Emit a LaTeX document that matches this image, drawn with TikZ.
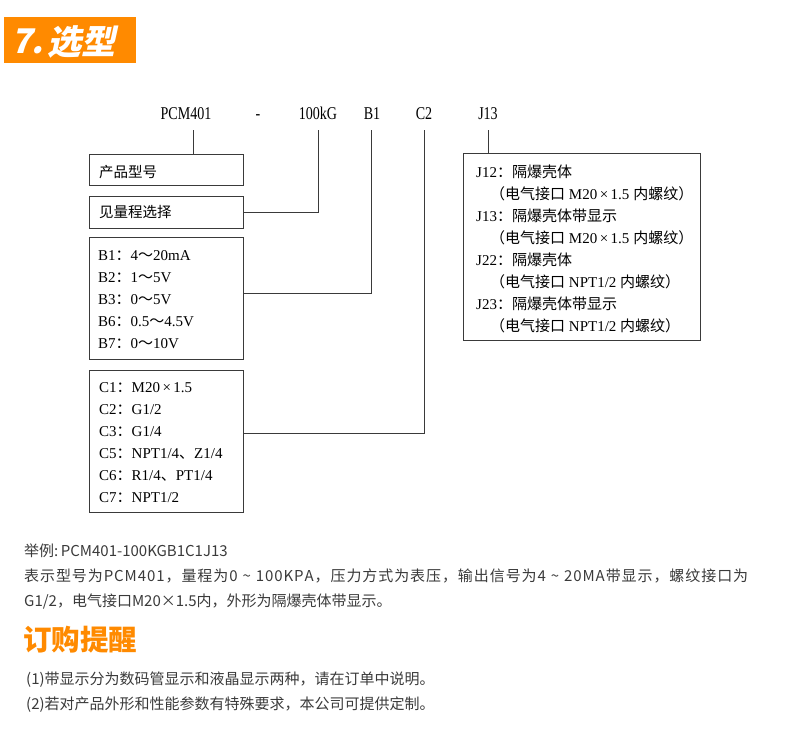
\documentclass[tikz,border=0pt]{standalone}
\usepackage{fontspec}
\usetikzlibrary{calc}
\setmainfont{Liberation Serif}
\newfontfamily\cjk{Noto Sans CJK SC}
\newfontfamily\hdrfont[FakeStretch=0.78]{Liberation Serif}
\newfontfamily\banfont[FakeSlant=0.22]{Noto Sans CJK SC}
\definecolor{orng}{HTML}{FF8A00}
\definecolor{txtgray}{HTML}{3A3A3A}
\definecolor{boxline}{HTML}{3A3A3A}
\newcommand\zh[1]{{\cjk #1}}
\newcommand\sqw{\hspace{4pt}\char"7E\hspace{4pt}}
\def\spreadtext#1{\spreadstep#1\relax}
\def\spreadstep#1{\ifx\relax#1\else#1\hskip0pt plus 1fil\expandafter\spreadstep\fi}
\begin{document}
\begin{tikzpicture}[x=1pt,y=-1pt,
  frame/.style={draw=boxline,line width=1pt,anchor=north west,inner sep=0pt,minimum width=154pt},
  conn/.style={draw=boxline,line width=1pt},
  hdr/.style={anchor=base,font=\hdrfont\fontsize{18}{18}\selectfont,inner sep=0pt},
  itm/.style={anchor=base west,font=\fontsize{15}{15}\selectfont,inner sep=0pt},
  zhitm/.style={anchor=base west,font=\cjk\fontsize{14.5}{15}\selectfont,inner sep=0pt},
  bodytxt/.style={anchor=base west,font=\cjk\fontsize{15}{15}\selectfont,text=txtgray,inner sep=0pt},
  bantxt/.style={anchor=base west,text=white,font=\banfont\bfseries\fontsize{34}{34}\selectfont,inner sep=0pt}
]
\useasboundingbox (0,0) rectangle (790,729);
% banner
\node[fill=orng,anchor=north west,inner sep=0pt,minimum width=132pt,minimum height=46pt] (ban) at (4,17) {};
\node[bantxt] (ban7) at (11,53) {7.};
\node[bantxt] (banzh) at (47,54) {选型};
% header codes
\node[hdr] (pcm) at (186,119) {PCM401};
\node[hdr] (dash) at (258,119) {-};
\node[hdr] (rng) at (318,119) {100kG};
\node[hdr] (bcode) at (372,119) {B1};
\node[hdr] (ccode) at (424,119) {C2};
\node[hdr] (jcode) at (488,119) {J13};
\coordinate (t1) at (193,130);
\coordinate (t2) at (318,130);
\coordinate (t3) at (371,130);
\coordinate (t4) at (424,130);
\coordinate (t6) at (488,130);
% boxes
\node[frame,minimum height=31pt] (bx1) at (89,154) {};
\node[frame,minimum height=32pt] (bx2) at (89,196) {};
\node[frame,minimum height=122pt] (bx3) at (89,237) {};
\node[frame,minimum height=142pt] (bx4) at (89,370) {};
\node[frame,minimum width=237pt,minimum height=187pt] (jb) at (463,153) {};
% box texts
\node[zhitm] (l1) at (99,177) {产品型号};
\node[zhitm] (l2) at (99,217) {见量程选择};
\node[itm] (b1) at (98,260) {B1\zh{：}4\zh{～}20mA};
\node[itm] (b2) at (98,282) {B2\zh{：}1\zh{～}5V};
\node[itm] (b3) at (98,304) {B3\zh{：}0\zh{～}5V};
\node[itm] (b6) at (98,326) {B6\zh{：}0.5\zh{～}4.5V};
\node[itm] (b7) at (98,348) {B7\zh{：}0\zh{～}10V};
\node[itm] (c1) at (99,392) {C1\zh{：}M20\,×\,1.5};
\node[itm] (c2) at (99,414) {C2\zh{：}G1/2};
\node[itm] (c3) at (99,436) {C3\zh{：}G1/4};
\node[itm] (c5) at (99,458) {C5\zh{：}NPT1/4\zh{、}Z1/4};
\node[itm] (c6) at (99,480) {C6\zh{：}R1/4\zh{、}PT1/4};
\node[itm] (c7) at (99,502) {C7\zh{：}NPT1/2};
\node[itm] (j1) at (476,177) {J12\zh{：隔爆壳体}};
\node[itm] (j1b) at (490,199) {\zh{（电气接口} M20\,×\,1.5 \zh{内螺纹）}};
\node[itm] (j2) at (476,221) {J13\zh{：隔爆壳体带显示}};
\node[itm] (j2b) at (490,243) {\zh{（电气接口} M20\,×\,1.5 \zh{内螺纹）}};
\node[itm] (j3) at (476,265) {J22\zh{：隔爆壳体}};
\node[itm] (j3b) at (490,287) {\zh{（电气接口} NPT1/2 \zh{内螺纹）}};
\node[itm] (j4) at (476,309) {J23\zh{：隔爆壳体带显示}};
\node[itm] (j4b) at (490,331) {\zh{（电气接口} NPT1/2 \zh{内螺纹）}};
% connectors
\draw[conn] (t1) -- (t1 |- bx1.north);
\draw[conn] (t2) |- (bx2.east);
\draw[conn] (t3) |- ($(bx3.east)+(0,-5)$);
\draw[conn] (t4) |- ($(bx4.east)+(0,-8)$);
\draw[conn] (t6) -- (t6 |- jb.north);
% bottom text
\node[bodytxt] (ex1) at (24,556) {举例:\hspace{2.5pt}PCM401-100KGB1C1J13};
\node[bodytxt] (ex2) at (24,581) {\makebox[724pt][s]{\spreadtext{表示型号为PCM401，量程为0\sqw100KPA，压力方式为表压，输出信号为4\sqw20MA带显示，螺纹接口为}\unskip}};
\node[bodytxt] (ex3) at (24,606) {G1/2，电气接口M20×1.5内，外形为隔爆壳体带显示。};
\node[anchor=base west,text=orng,font=\cjk\bfseries\fontsize{28.5}{29}\selectfont,inner sep=0pt] (order) at (23,650) {订购提醒};
\node[bodytxt] (n1) at (26,684) {(1)带显示分为数码管显示和液晶显示两种，请在订单中说明。};
\node[bodytxt] (n2) at (26,709) {(2)若对产品外形和性能参数有特殊要求，本公司可提供定制。};
\end{tikzpicture}
\end{document}
